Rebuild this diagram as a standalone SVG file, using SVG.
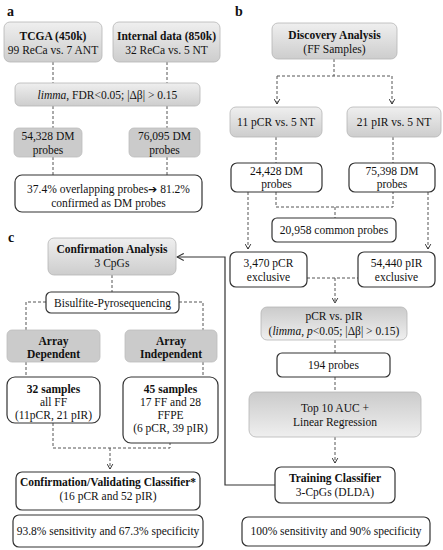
<svg xmlns="http://www.w3.org/2000/svg" width="443" height="550" viewBox="0 0 443 550">
<defs>
<linearGradient id="gd" x1="0" y1="0" x2="0" y2="1"><stop offset="0" stop-color="#efefef"/><stop offset="1" stop-color="#cdcdcd"/></linearGradient>
<linearGradient id="gu" x1="0" y1="0" x2="0" y2="1"><stop offset="0" stop-color="#cbcbcb"/><stop offset="1" stop-color="#efefef"/></linearGradient>
<marker id="av" viewBox="0 0 10 10" refX="8" refY="5" markerWidth="7" markerHeight="7" orient="auto" markerUnits="userSpaceOnUse"><path d="M1,1 L8,5 L1,9" fill="none" stroke="#333" stroke-width="1.4"/></marker>
<marker id="as" viewBox="0 0 10 10" refX="8.5" refY="5" markerWidth="9" markerHeight="9" orient="auto" markerUnits="userSpaceOnUse"><path d="M1,1 L8.5,5 L1,9" fill="none" stroke="#333" stroke-width="1.2"/></marker>
</defs>
<style>
text{font-family:"Liberation Serif","Times New Roman",serif;font-size:11.5px;fill:#111;text-anchor:middle}
.b{font-weight:bold}
.lab{font-size:14px;font-weight:bold;text-anchor:start}
.g{fill:url(#gd);stroke:#b5b5b5;stroke-width:0.8}
.gu{fill:url(#gu);stroke:#b5b5b5;stroke-width:0.8}
.gs{fill:#cbcbcb;stroke:#bdbdbd;stroke-width:0.8}
.w{fill:#fff;stroke:#333;stroke-width:1.2}
.d{fill:none;stroke:#555;stroke-width:1;stroke-dasharray:3,2}
.s{fill:none;stroke:#333;stroke-width:1.2}
</style>
<text class="lab" x="7" y="16">a</text>
<text class="lab" x="235" y="16">b</text>
<text class="lab" x="8" y="242">c</text>

<g id="connectors">
<path class="d" d="M53,62 V83 M167,62 V83 M53,106 V128 M167,106 V128 M53,157 V175 M167,157 V175"/>
<path class="d" d="M334,59 V76"/>
<path class="d" d="M277,76 H392" />
<path class="d" d="M277,76 V104" marker-end="url(#av)"/>
<path class="d" d="M392,76 V104" marker-end="url(#av)"/>
<path class="d" d="M276,137 V163 M393,137 V163"/>
<path class="d" d="M276,192 V207 H393 V192 M335,207 V218"/>
<path class="d" d="M248,192 V249" marker-end="url(#av)"/>
<path class="d" d="M428,192 V249" marker-end="url(#av)"/>
<path class="d" d="M307,278 H358"/>
<path class="d" d="M335,278 V303" marker-end="url(#av)"/>
<path class="d" d="M335,340 V353 M335,377 V392"/>
<path class="d" d="M335,437 V463" marker-end="url(#av)"/>
<path class="s" d="M275,485 H225 V257 H177" marker-end="url(#as)"/>
<path class="d" d="M112,275 V292"/>
<path class="d" d="M46,302 H26 V330 M179,302 H203 V330"/>
<path class="d" d="M26,362 V377 M203,362 V377"/>
<path class="d" d="M53,423 V448 H170 V443 M110,448 V469" marker-end="url(#av)"/>
</g>

<g id="tcga"><rect class="g" x="4" y="22" width="98" height="40" rx="6"/><text class="b" x="53" y="40">TCGA (450k)</text><text x="53" y="54">99 ReCa vs. 7 ANT</text></g>
<g id="internal"><rect class="g" x="113" y="22" width="107" height="40" rx="6"/><text class="b" x="166.5" y="40">Internal data (850k)</text><text x="166.5" y="54">32 ReCa vs. 5 NT</text></g>
<g id="limma"><rect class="g" x="15" y="83" width="185" height="23" rx="5"/><text x="107.5" y="99"><tspan font-style="italic">limma</tspan>, FDR&lt;0.05; |Δβ| &gt; 0.15</text></g>
<g id="dm1"><rect class="gs" x="14" y="128" width="68" height="29" rx="5"/><text x="48" y="140">54,328 DM</text><text x="48" y="154">probes</text></g>
<g id="dm2"><rect class="gs" x="129" y="128" width="71" height="29" rx="5"/><text x="164.5" y="140">76,095 DM</text><text x="164.5" y="154">probes</text></g>
<g id="overlap"><rect class="w" x="15" y="175" width="187" height="37" rx="7"/><text x="108.5" y="193">37.4% overlapping probes<tspan font-family="DejaVu Sans, sans-serif" font-weight="bold" font-size="11">➔</tspan> 81.2%</text><text x="108.5" y="207">confirmed as DM probes</text></g>

<g id="discovery"><rect class="g" x="272" y="23" width="125" height="36" rx="6"/><text class="b" x="334.5" y="38.5">Discovery Analysis</text><text x="334.5" y="52.5">(FF Samples)</text></g>
<g id="pcr5"><rect class="g" x="230" y="107" width="92" height="30" rx="6"/><text x="276" y="126">11 pCR vs. 5 NT</text></g>
<g id="pir5"><rect class="g" x="347" y="107" width="94" height="30" rx="6"/><text x="394" y="126">21 pIR vs. 5 NT</text></g>
<g id="dm24"><rect class="w" x="231" y="163" width="91" height="29" rx="6"/><text x="276.5" y="175">24,428 DM</text><text x="276.5" y="188">probes</text></g>
<g id="dm75"><rect class="w" x="349" y="163" width="86" height="29" rx="6"/><text x="392" y="175">75,398 DM</text><text x="392" y="188">probes</text></g>
<g id="common"><rect class="w" x="272" y="218" width="124" height="24" rx="5"/><text x="334" y="234">20,958 common probes</text></g>
<g id="pcrx"><rect class="w" x="230" y="252" width="77" height="35" rx="6"/><text x="268.5" y="267">3,470 pCR</text><text x="268.5" y="281">exclusive</text></g>
<g id="pirx"><rect class="w" x="358" y="252" width="77" height="35" rx="6"/><text x="396.5" y="267">54,440 pIR</text><text x="396.5" y="281">exclusive</text></g>
<g id="pvp"><rect class="gu" x="261" y="307" width="146" height="33" rx="6"/><text x="334" y="320">pCR vs. pIR</text><text x="334" y="335">(<tspan font-style="italic">limma</tspan>, <tspan font-style="italic">p</tspan>&lt;0.05; |Δβ| &gt; 0.15)</text></g>
<g id="p194"><rect class="w" x="277" y="353" width="113" height="24" rx="5"/><text x="333.5" y="369">194 probes</text></g>
<g id="top10"><rect class="gu" x="249" y="392" width="172" height="45" rx="7"/><text x="335" y="412">Top 10 AUC +</text><text x="335" y="426">Linear Regression</text></g>
<g id="training"><rect class="w" x="275" y="467" width="120" height="36" rx="6"/><text class="b" x="335" y="482">Training Classifier</text><text x="335" y="496">3-CpGs (DLDA)</text></g>
<g id="train_res"><rect class="w" x="242" y="517" width="188" height="29" rx="6"/><text x="336" y="535">100% sensitivity and 90% specificity</text></g>

<g id="confirm"><rect class="g" x="48" y="238" width="128" height="37" rx="6"/><text class="b" x="112" y="253">Confirmation Analysis</text><text x="112" y="267">3 CpGs</text></g>
<g id="bisulfite"><rect class="w" x="46" y="292" width="133" height="21" rx="5"/><text x="112.5" y="307">Bisulfite-Pyrosequencing</text></g>
<g id="adep"><rect class="gs" x="7" y="330" width="93" height="32" rx="5"/><text class="b" x="53.5" y="345">Array</text><text class="b" x="53.5" y="358">Dependent</text></g>
<g id="aind"><rect class="gs" x="125" y="330" width="92" height="32" rx="5"/><text class="b" x="171" y="345">Array</text><text class="b" x="171" y="358">Independent</text></g>
<g id="s32"><rect class="w" x="7" y="377" width="93" height="46" rx="8"/><text class="b" x="53.5" y="393">32 samples</text><text x="53.5" y="406">all FF</text><text x="53.5" y="419">(11pCR, 21 pIR)</text></g>
<g id="s45"><rect class="w" x="123" y="377" width="95" height="66" rx="8"/><text class="b" x="170.5" y="393">45 samples</text><text x="170.5" y="406">17 FF and 28</text><text x="170.5" y="419">FFPE</text><text x="170.5" y="432">(6 pCR, 39 pIR)</text></g>
<g id="valid"><rect class="w" x="16" y="472" width="184" height="38" rx="6"/><text class="b" x="108" y="486">Confirmation/Validating Classifier*</text><text x="108" y="500">(16 pCR and 52 pIR)</text></g>
<g id="valid_res"><rect class="w" x="13" y="515" width="190" height="32" rx="6"/><text x="108" y="535">93.8% sensitivity and 67.3% specificity</text></g>
</svg>
